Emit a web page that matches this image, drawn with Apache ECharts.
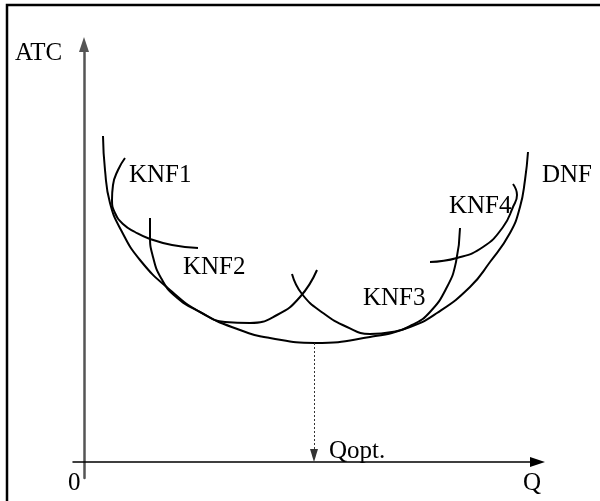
<!DOCTYPE html>
<html>
<head>
<meta charset="utf-8">
<script src="https://cdn.jsdelivr.net/npm/echarts@6/dist/echarts.min.js"></script>
<style>
  html, body { margin: 0; padding: 0; background: #fff; }
  #chart { width: 600px; height: 501px; }
</style>
</head>
<body>
<div id="chart"></div>
<script>
// long-run envelope (DNF) and short-run curves (KNF1..KNF4)
const dnfX = [19, 21, 26, 37, 56, 86, 116, 156, 186, 231, 286, 326, 353, 386, 406, 426, 436, 441, 444];
const dnfY = [326, 292, 259, 232, 202, 172, 150, 132, 124, 119, 125, 135, 149, 175, 200, 229, 255, 282, 310];

const knf1X = [41, 34, 29, 28, 31, 39, 51, 66, 88, 114];
const knf1Y = [304, 292, 277, 262, 249, 238, 230, 223, 217, 214];

const knf2X = [66, 66, 69, 77, 91, 116, 141, 166, 193, 216, 233];
const knf2Y = [244, 226, 205, 184, 166, 150, 140, 139, 147, 165, 192];

const knf3X = [208, 218, 239, 263, 286, 308, 328, 346, 363, 372, 376];
const knf3Y = [188, 168, 149, 135, 128, 130, 137, 150, 175, 200, 234];

const knf4X = [346, 373, 399, 419, 429, 433, 429];
const knf4Y = [200, 204, 215, 235, 255, 267, 278];

const qOpt = 230;
const atcMin = 119;

const FONT = '25px "Liberation Serif", "DejaVu Serif", serif';

function pairs(xs, ys) {
  return xs.map((x, i) => [x, ys[i]]);
}

function curve(name, xs, ys) {
  return {
    name: name,
    type: "line",
    data: pairs(xs, ys),
    smooth: 0.5,
    symbol: "none",
    silent: true,
    lineStyle: { color: "#000", width: 2 },
  };
}

function label(text, x, y) {
  return {
    type: "text",
    x: x,
    y: y,
    silent: true,
    style: { text: text, font: FONT, fill: "#000", textVerticalAlign: "middle" },
  };
}

const chart = echarts.init(document.getElementById("chart"), null, { renderer: "canvas" });

const dnf = curve("DNF", dnfX, dnfY);
dnf.markLine = {
  silent: true,
  symbol: ["none", "triangle"],
  symbolSize: [8, 13],
  label: { show: false },
  lineStyle: { color: "#333", width: 1, type: [2, 2] },
  data: [[{ coord: [qOpt, atcMin] }, { coord: [qOpt, 6.5] }]],
};

chart.setOption({
  animation: false,
  backgroundColor: "#fff",
  grid: { left: 73, right: 62.5, top: 44.5, bottom: 23 },
  xAxis: {
    type: "value",
    min: -11,
    max: 453.5,
    axisLine: {
      onZero: true,
      symbol: ["none", "triangle"],
      symbolSize: [10, 15],
      lineStyle: { color: "#000", width: 1.5 },
    },
    axisTick: { show: false },
    axisLabel: { show: false },
    splitLine: { show: false },
  },
  yAxis: {
    type: "value",
    min: -16,
    max: 417.5,
    axisLine: {
      onZero: true,
      symbol: ["none", "triangle"],
      symbolSize: [10, 15],
      lineStyle: { color: "#555", width: 2.5 },
    },
    axisTick: { show: false },
    axisLabel: { show: false },
    splitLine: { show: false },
  },
  series: [
    dnf,
    curve("KNF1", knf1X, knf1Y),
    curve("KNF2", knf2X, knf2Y),
    curve("KNF3", knf3X, knf3Y),
    curve("KNF4", knf4X, knf4Y),
  ],
  graphic: [
    {
      type: "polyline",
      silent: true,
      shape: { points: [[7, 501], [7, 5], [600, 5]] },
      style: { stroke: "#000", lineWidth: 2.5, fill: null },
    },
    label("ATC", 15, 53),
    label("KNF1", 129, 175),
    label("KNF2", 183, 267),
    label("KNF3", 363, 298),
    label("KNF4", 449, 206),
    label("DNF", 542, 175),
    label("Qopt.", 329, 451),
    label("0", 68, 483),
    label("Q", 523, 483),
  ],
});
</script>
</body>
</html>
